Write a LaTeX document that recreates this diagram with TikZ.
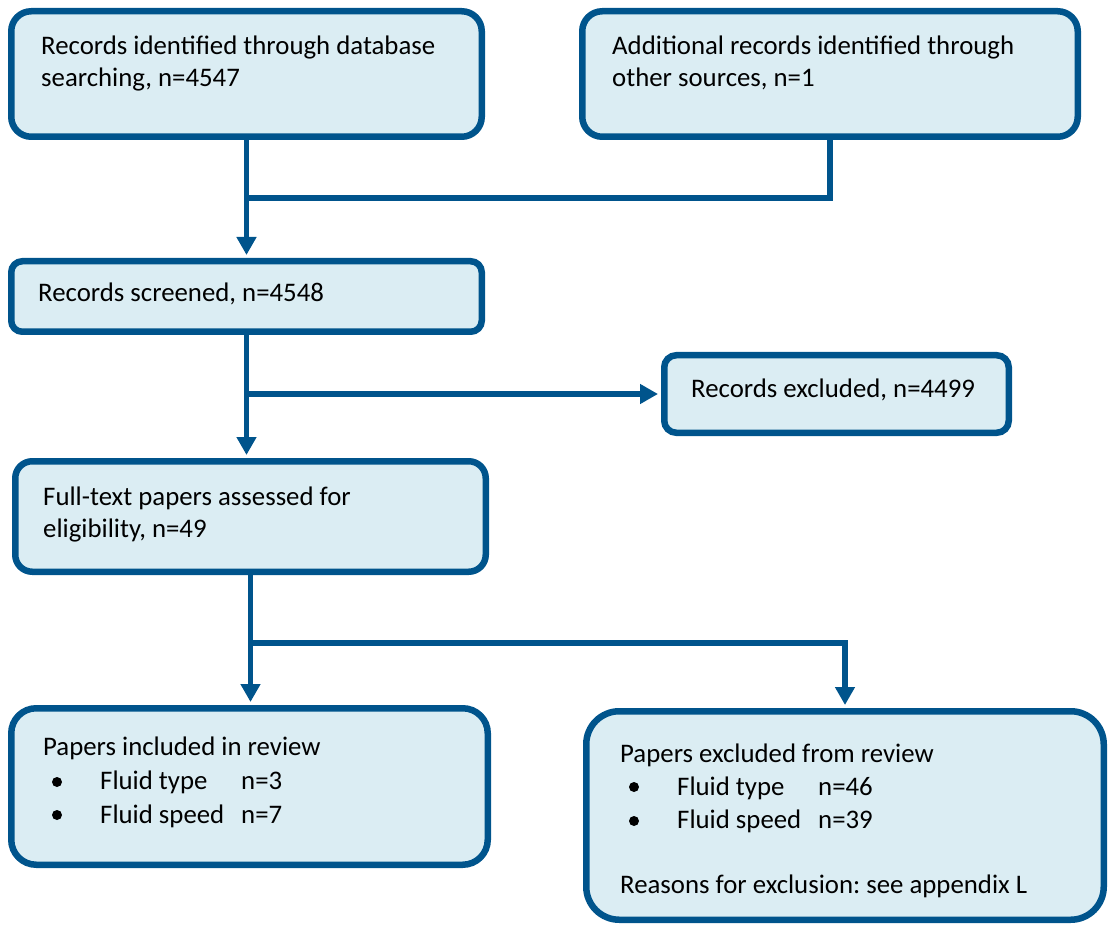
\documentclass[tikz,border=0pt]{standalone}
\usepackage{fontspec}
\setmainfont{Carlito}
\frenchspacing
\usetikzlibrary{arrows.meta}
\definecolor{flowedge}{RGB}{0,84,140}
\definecolor{flowfill}{RGB}{219,237,243}
\begin{document}
\begin{tikzpicture}[x=1pt,y=-1pt,
  flowbox/.style={draw=flowedge,fill=flowfill,line width=6.5pt,inner sep=0pt},
  txt/.style={anchor=base west,inner sep=0pt,font=\fontsize{26.8}{32}\selectfont},
  link/.style={draw=flowedge,line width=5.5pt},
  arr/.style={link,-{Triangle[length=18pt,width=19pt]},shorten >=3pt}]
\useasboundingbox (0,0) rectangle (1109,925);

% boxes
\node[flowbox,rounded corners=20pt,minimum width=470.5pt,minimum height=125.5pt] (b1) at (246.5,74) {};
\node[flowbox,rounded corners=20pt,minimum width=495.5pt,minimum height=125.5pt] (b2) at (830,74) {};
\node[flowbox,rounded corners=11pt,minimum width=470.5pt,minimum height=70.5pt] (b3) at (246.5,296.5) {};
\node[flowbox,rounded corners=12pt,minimum width=344.5pt,minimum height=77.5pt] (b4) at (836.5,394) {};
\node[flowbox,rounded corners=17pt,minimum width=470.5pt,minimum height=110.5pt] (b5) at (250.5,516.5) {};
\node[flowbox,rounded corners=25pt,minimum width=476.5pt,minimum height=156.5pt] (b6) at (249.5,786.5) {};
\node[flowbox,rounded corners=33pt,minimum width=517.5pt,minimum height=208.5pt] (b7) at (845,815.5) {};

% texts
\node[txt] (t1a) at (41,55) {Records identified through database};
\node[txt] (t1b) at (41,87) {searching, n=4547};
\node[txt] (t2a) at (612,55) {Additional records identified through};
\node[txt] (t2b) at (612,87) {other sources, n=1};
\node[txt] (t3) at (38,302) {Records screened, n=4548};
\node[txt] (t4) at (691,397) {Records excluded, n=4499};
\node[txt] (t5a) at (43,505) {Full-text papers assessed for};
\node[txt] (t5b) at (43,537) {eligibility, n=49};

\node[txt] (t6a) at (43,755) {Papers included in review};
\fill (57,782) circle (5pt);
\node[txt] (t6b) at (100,789) {Fluid type};
\node[txt] (t6c) at (241,789) {n=3};
\fill (57,815) circle (5pt);
\node[txt] (t6d) at (100,823) {Fluid speed};
\node[txt] (t6e) at (241,823) {n=7};

\node[txt] (t7a) at (620,762) {Papers excluded from review};
\fill (634,787) circle (5pt);
\node[txt] (t7b) at (677,795) {Fluid type};
\node[txt] (t7c) at (818,795) {n=46};
\fill (634,821) circle (5pt);
\node[txt] (t7d) at (677,828) {Fluid speed};
\node[txt] (t7e) at (818,828) {n=39};
\node[txt] (t7f) at (620,893) {Reasons for exclusion: see appendix L};

% connectors
\coordinate (j1) at (246.5,198);
\coordinate (j2) at (246.5,394);
\coordinate (j3) at (250.5,643);
\draw[arr] (b1.south) -- (b3.north);
\draw[link] (b2.south) |- (j1);
\draw[arr] (b3.south) -- (b3.south |- b5.north);
\draw[arr] (j2) -- (b4.west);
\draw[arr] (b5.south) -- (b5.south |- b6.north);
\draw[arr] (j3) -| (b7.north);
\end{tikzpicture}
\end{document}
